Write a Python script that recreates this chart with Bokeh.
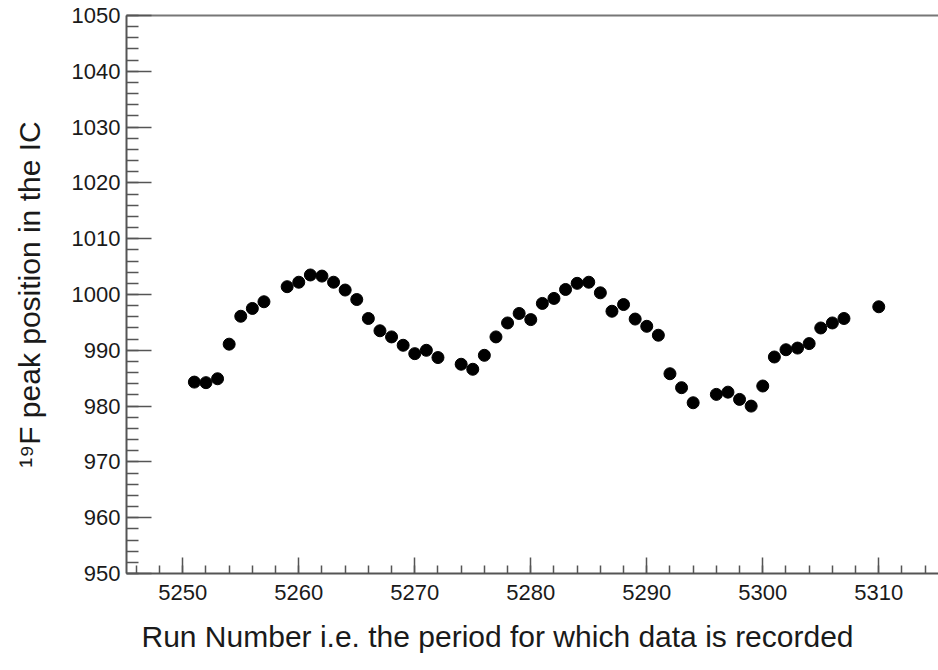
from bokeh.plotting import figure
from bokeh.models import (ColumnDataSource, LinearAxis, SingleIntervalTicker,
                          FixedTicker, Range1d, Title)
from bokeh.embed import file_html
from bokeh.resources import INLINE

# Run numbers and the fitted 19F peak position in the ionisation chamber
runs = [5251, 5252, 5253, 5254, 5255, 5256, 5257, 5259, 5260, 5261,
        5262, 5263, 5264, 5265, 5266, 5267, 5268, 5269, 5270, 5271,
        5272, 5274, 5275, 5276, 5277, 5278, 5279, 5280, 5281, 5282,
        5283, 5284, 5285, 5286, 5287, 5288, 5289, 5290, 5291, 5292,
        5293, 5294, 5296, 5297, 5298, 5299, 5300, 5301, 5302, 5303,
        5304, 5305, 5306, 5307, 5310]
peak = [984.3, 984.2, 984.9, 991.1, 996.1, 997.5, 998.7, 1001.4, 1002.2, 1003.5,
        1003.3, 1002.2, 1000.8, 999.1, 995.7, 993.5, 992.4, 990.9, 989.4, 990.0,
        988.7, 987.5, 986.6, 989.1, 992.4, 994.9, 996.6, 995.5, 998.4, 999.3,
        1000.9, 1002.0, 1002.2, 1000.3, 997.0, 998.2, 995.6, 994.3, 992.7, 985.8,
        983.3, 980.6, 982.1, 982.5, 981.2, 980.0, 983.6, 988.8, 990.1, 990.4,
        991.2, 994.0, 994.9, 995.7, 997.8]

x_title = "Run Number i.e. the period for which data is recorded"
y_title = "\u00b9\u2079F peak position in the IC"

FONT = "Liberation Sans"
TEXT = "#1a1a1a"

src = ColumnDataSource(data=dict(run=runs, peak=peak))

p = figure(width=938, height=670, output_backend="svg", toolbar_location=None,
           x_range=Range1d(5245.15, 5315.15), y_range=Range1d(950, 1050),
           x_axis_location=None, y_axis_location=None,
           min_border_left=126, min_border_top=15, min_border_bottom=97,
           min_border_right=0)
p.outline_line_color = None
p.grid.visible = False
p.background_fill_color = "white"
p.border_fill_color = "white"

def style_axis(ax, major_len, minor_len):
    ax.axis_line_color = "#555555"
    ax.axis_line_width = 2
    ax.major_tick_line_color = "#555555"
    ax.minor_tick_line_color = "#555555"
    ax.major_tick_line_width = 1.5
    ax.minor_tick_line_width = 1.5
    ax.major_tick_in = major_len
    ax.major_tick_out = 0
    ax.minor_tick_in = minor_len
    ax.minor_tick_out = 0
    ax.major_label_text_font = FONT
    ax.major_label_text_font_size = "22px"
    ax.major_label_text_color = TEXT
    ax.axis_label_text_font = FONT
    ax.axis_label_text_font_size = "30px"
    ax.axis_label_text_font_style = "normal"
    ax.axis_label_text_color = TEXT

xaxis = LinearAxis(ticker=SingleIntervalTicker(interval=10, num_minor_ticks=5))
style_axis(xaxis, 16, 8)
xaxis.major_label_standoff = 11
p.add_layout(xaxis, "below")

yaxis = LinearAxis(ticker=SingleIntervalTicker(interval=10, num_minor_ticks=5),
                   axis_label=y_title)
style_axis(yaxis, 25, 12)
yaxis.major_label_standoff = 6
yaxis.axis_label_standoff = 23
p.add_layout(yaxis, "left")

# x-axis title, set a little left of the frame centre
xt = Title(text=x_title, align="left", offset=15, standoff=30,
           text_font=FONT, text_font_size="30px", text_font_style="normal",
           text_color=TEXT)
p.add_layout(xt, "below")

# plain frame line along the top edge
top = LinearAxis(ticker=FixedTicker(ticks=[]))
top.axis_line_color = "#777777"
top.axis_line_width = 2
top.major_label_text_font_size = "0px"
top.major_tick_line_color = None
top.minor_tick_line_color = None
p.add_layout(top, "above")

p.scatter("run", "peak", source=src, size=12, color="black", line_color="black")

open("out.html", "w").write(file_html(p, INLINE))
